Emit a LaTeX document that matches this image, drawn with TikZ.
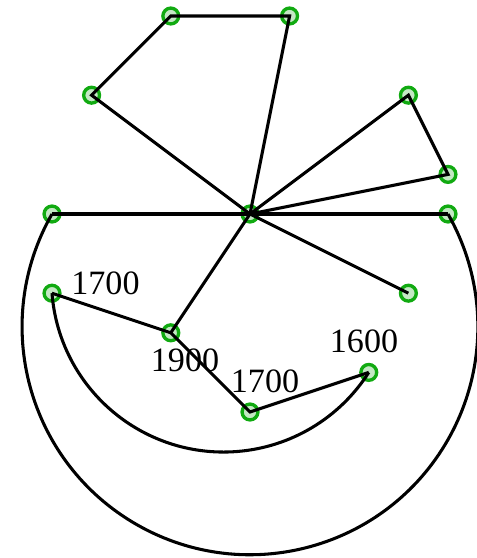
\documentclass[tikz,border=0pt]{standalone}
\usepackage{fontspec}
\setmainfont{Liberation Serif}
\usepackage{tikz}
\usetikzlibrary{positioning,calc}
\definecolor{cRing}{HTML}{11AA11}
\definecolor{cFill}{HTML}{C4E8C4}
\tikzset{
  vtx/.style  ={circle,draw=cRing,fill=cFill,line width=2.4pt,minimum size=4mm,inner sep=0pt},
  edg/.style  ={draw=black,line width=2.2pt},
  wt/.style   ={font=\fontsize{24.5}{28}\selectfont,inner sep=0pt},
}
\begin{document}
\begin{tikzpicture}[x=1cm,y=1cm]
\useasboundingbox (-6.313,-8.687) rectangle (5.732,5.404);
% vertices first, so the edges lie on top of the rings
\foreach \n/\x/\y in {hub/0/0, tl/-2/5, tr/1/5, ul/-4/3, ur/4/3, er/5/1,
                      wl/-5/0, wr/5/0, pl/-5/-2, pr/4/-2,
                      s1/-2/-3, s2/0/-5, s3/3/-4}
  {\node[vtx] (\n) at (\x,\y) {};}

% weights
\node[wt] (w1) at (-3.65,-1.75) {1700};
\node[wt] (w2) at (-1.64,-3.70) {1900};
\node[wt] (w3) at (0.38,-4.23)  {1700};
\node[wt] (w4) at (2.88,-3.22)  {1600};

% upper fans
\draw[edg] (hub.center) -- (tr.center) -- (tl.center) -- (ul.center) -- (hub.center);
\draw[edg] (hub.center) -- (ur.center) -- (er.center) -- (hub.center);
\draw[edg] (wl.center) -- (wr.center);
\draw[edg] (hub.center) -- (pr.center);
\draw[edg] (hub.center) -- (s1.center);
% lower chain
\draw[edg] (pl.center) -- (s1.center) -- (s2.center) -- (s3.center);
% arcs
\draw[edg] (wl.center) arc[start angle=150.32,end angle=389.68,radius=5.755];
\draw[edg] (pl.center) arc[start angle=184.43,end angle=327.5,radius=4.347];
\end{tikzpicture}
\end{document}
